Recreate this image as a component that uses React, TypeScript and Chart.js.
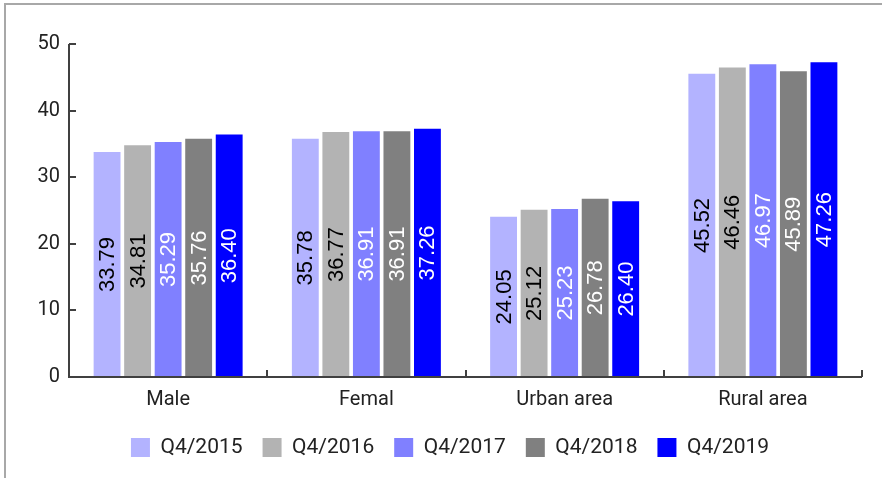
import React, { useEffect, useRef } from "react";
import { Chart, registerables } from "chart.js";

Chart.register(...registerables);

const categories = ["Male", "Femal", "Urban area", "Rural area"];
const seriesNames = ["Q4/2015", "Q4/2016", "Q4/2017", "Q4/2018", "Q4/2019"];
const q42015 = [33.79, 35.78, 24.05, 45.52];
const q42016 = [34.81, 36.77, 25.12, 46.46];
const q42017 = [35.29, 36.91, 25.23, 46.97];
const q42018 = [35.76, 36.91, 26.78, 45.89];
const q42019 = [36.4, 37.26, 26.4, 47.26];
const seriesValues = [q42015, q42016, q42017, q42018, q42019];
const seriesColors = ["#b3b3ff", "#b3b3b3", "#8080ff", "#808080", "#0000ff"];
const labelColors = ["#000000", "#000000", "#ffffff", "#ffffff", "#ffffff"];
const yTicks = [0, 10, 20, 30, 40, 50];

const AXIS_COLOR = "#404040";

const innerTicks = {
  id: "innerTicks",
  afterDatasetsDraw(chart: any) {
    const ctx = chart.ctx;
    const x = chart.scales.x;
    const y = chart.scales.y;
    ctx.save();
    ctx.strokeStyle = AXIS_COLOR;
    ctx.lineWidth = 2;
    yTicks.forEach((v) => {
      const py = Math.round(y.getPixelForValue(v));
      ctx.beginPath();
      ctx.moveTo(x.left, py);
      ctx.lineTo(x.left + 7, py);
      ctx.stroke();
    });
    const n = categories.length;
    for (let i = 0; i < n; i++) {
      let px;
      if (i < n - 1) px = (x.getPixelForValue(i) + x.getPixelForValue(i + 1)) / 2;
      else px = x.right;
      px = Math.round(px);
      ctx.beginPath();
      ctx.moveTo(px, y.bottom);
      ctx.lineTo(px, y.bottom - 7);
      ctx.stroke();
    }
    ctx.beginPath();
    ctx.moveTo(x.left, y.top);
    ctx.lineTo(x.left, y.bottom);
    ctx.lineTo(x.right, y.bottom);
    ctx.stroke();
    ctx.restore();
  },
};

const barLabels = {
  id: "barLabels",
  afterDatasetsDraw(chart: any) {
    const ctx = chart.ctx;
    ctx.save();
    ctx.font = "22px 'Liberation Sans', Arial, sans-serif";
    ctx.textAlign = "center";
    ctx.textBaseline = "middle";
    chart.data.datasets.forEach((ds: any, di: number) => {
      const meta = chart.getDatasetMeta(di);
      meta.data.forEach((bar: any, i: number) => {
        const cy = (bar.y + bar.base) / 2;
        ctx.save();
        ctx.translate(bar.x, cy);
        ctx.rotate(-Math.PI / 2);
        ctx.fillStyle = labelColors[di];
        ctx.fillText(ds.data[i].toFixed(2), 0, 1);
        ctx.restore();
      });
    });
    ctx.restore();
  },
};

export default function App() {
  const ref = useRef<HTMLCanvasElement | null>(null);

  useEffect(() => {
    if (!ref.current) return;
    const chart = new Chart(ref.current, {
      type: "bar",
      data: {
        labels: categories,
        datasets: seriesNames.map((name, i) => ({
          label: name,
          data: seriesValues[i],
          backgroundColor: seriesColors[i],
          borderWidth: 0,
          categoryPercentage: 0.77,
          barPercentage: 0.88,
        })),
      },
      options: {
        animation: false,
        responsive: false,
        maintainAspectRatio: false,
        layout: { padding: { left: 38, right: 20, top: 44, bottom: 10 } },
        plugins: {
          tooltip: { enabled: false },
          legend: {
            position: "bottom",
            labels: {
              boxWidth: 19,
              boxHeight: 19,
              padding: 20,
              color: "#222222",
              font: { family: "Roboto", size: 21 },
            },
          },
        },
        scales: {
          x: {
            grid: { display: false, drawTicks: false },
            border: { display: false },
            afterFit: (s: any) => {
              s.height = s.height - 6;
            },
            ticks: {
              color: "#222222",
              font: { family: "Roboto", size: 20 },
              padding: 11,
              maxRotation: 0,
            },
          },
          y: {
            min: 0,
            max: 50,
            afterFit: (s: any) => {
              s.width = 31;
            },
            afterBuildTicks: (s: any) => {
              s.ticks = yTicks.map((v) => ({ value: v }));
            },
            grid: { display: false, drawTicks: false },
            border: { display: false },
            ticks: {
              color: "#222222",
              font: { family: "Roboto", size: 20 },
              padding: 9,
            },
          },
        },
      },
      plugins: [innerTicks, barLabels],
    });
    return () => chart.destroy();
  }, []);

  return (
    <div
      style={{
        position: "fixed",
        left: 0,
        top: 0,
        width: 882,
        height: 478,
        overflow: "hidden",
        background: "#ffffff",
      }}
    >
      <div
        style={{
          position: "absolute",
          left: 4,
          top: 3,
          width: 1000,
          height: 1000,
          borderLeft: "2px solid #a8a8a8",
          borderTop: "2px solid #a8a8a8",
        }}
      />
      <canvas
        ref={ref}
        width={882}
        height={478}
        style={{ position: "absolute", left: 0, top: 0, width: 882, height: 478 }}
      />
    </div>
  );
}
